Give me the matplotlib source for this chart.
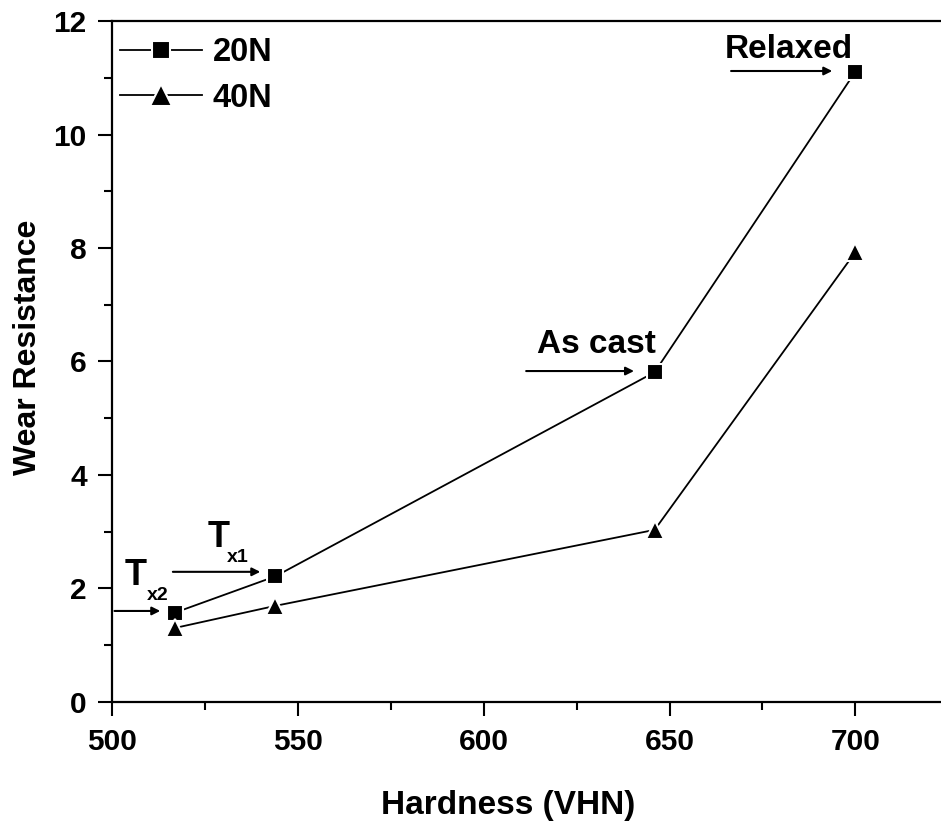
import numpy as np
import matplotlib.pyplot as plt
from matplotlib.ticker import MultipleLocator

############################################################
# Wear resistance vs hardness for the two loads

hardness = [517, 544, 646, 700]
wear_20N = [1.57, 2.21, 5.81, 11.11]
wear_40N = [1.30, 1.69, 3.03, 7.93]

labels = ['As cast', 'Relaxed']

plt.rcParams['font.family'] = ['Liberation Sans', 'DejaVu Sans']
plt.rcParams['font.weight'] = 'bold'

fig = plt.figure(figsize=(9.41, 8.27), dpi=100)
ax = fig.add_axes([0.1187, 0.1515, 0.8813, 0.823])

# white marker edge leaves the small gap between line and symbol
ax.plot(hardness, wear_20N, 'k-', lw=1.3, marker='s', ms=11, mec='white', mew=1.5,
        mfc='k', label='20N')
ax.plot(hardness, wear_40N, 'k-', lw=1.3, marker='^', ms=13, mec='white', mew=1.5,
        mfc='k', label='40N')

ax.set_xlim(500, 723)
ax.set_ylim(0, 12)
ax.xaxis.set_major_locator(MultipleLocator(50))
ax.xaxis.set_minor_locator(MultipleLocator(25))
ax.yaxis.set_major_locator(MultipleLocator(2))
ax.yaxis.set_minor_locator(MultipleLocator(1))
ax.tick_params(which='major', direction='out', length=10, width=1.5, labelsize=21.5)
ax.tick_params(axis='x', which='major', pad=9)
ax.tick_params(axis='y', which='major', pad=8)
ax.tick_params(which='minor', direction='out', length=6, width=1.5)
for lab in ax.get_xticklabels() + ax.get_yticklabels():
    lab.set_fontweight('bold')

for side in ['left', 'bottom', 'top']:
    ax.spines[side].set_linewidth(1.6)
ax.spines['right'].set_visible(False)

ax.set_xlabel('Hardness (VHN)', fontsize=24, fontweight='bold')
ax.set_ylabel('Wear Resistance', fontsize=23, fontweight='bold')
ax.xaxis.set_label_coords(0.478, -0.13)
ax.yaxis.set_label_coords(-0.083, 0.52)

leg = ax.legend(loc='upper left', frameon=False, fontsize=23.5, handlelength=2.5,
                borderaxespad=0.1, labelspacing=0.44, handletextpad=0.34,
                markerscale=1.2, bbox_to_anchor=(-0.0097, 1.0))
for t in leg.get_texts():
    t.set_fontweight('bold')

# arrows pointing at the heat-treatment states
arrow = dict(arrowstyle='-|>', color='k', lw=1.5, mutation_scale=12)
ax.annotate('', xy=(513.8, 1.60), xytext=(500, 1.60), arrowprops=arrow)
ax.annotate('', xy=(540.7, 2.29), xytext=(515.7, 2.29), arrowprops=arrow)
ax.annotate('', xy=(641.2, 5.83), xytext=(610.7, 5.83), arrowprops=arrow)
ax.annotate('', xy=(694.5, 11.12), xytext=(665.8, 11.12), arrowprops=arrow)

ax.text(506.3, 2.06, 'T', fontsize=26, fontweight='bold', ha='center', va='baseline')
ax.text(509.5, 1.79, 'x2', fontsize=14, fontweight='bold', ha='left', va='baseline')
ax.text(528.7, 2.73, 'T', fontsize=26, fontweight='bold', ha='center', va='baseline')
ax.text(530.9, 2.47, 'x1', fontsize=14, fontweight='bold', ha='left', va='baseline')
ax.text(630.4, 6.29, labels[0], fontsize=24, fontweight='bold', ha='center', va='center')
ax.text(682.0, 11.5, labels[1], fontsize=24, fontweight='bold', ha='center', va='center')

fig.savefig('out.png', dpi=100)
